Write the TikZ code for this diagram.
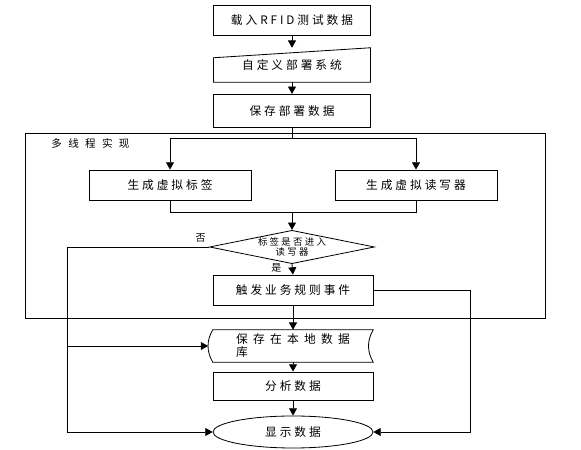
\documentclass[tikz,border=0pt]{standalone}
\usepackage{fontspec}
\newfontfamily\cjk[LetterSpace=25]{Noto Sans CJK SC}
\newfontfamily\cjkwide[LetterSpace=60]{Noto Sans CJK SC}
\usetikzlibrary{arrows.meta,shapes.geometric}

\begin{document}
\begin{tikzpicture}[
  x=0.3mm, y=-0.3mm,
  font=\cjk\fontsize{10}{12}\selectfont,
  ln/.style={line width=0.7pt},
  box/.style={draw, ln, minimum width=48mm, minimum height=9mm, inner sep=2pt},
  plain/.style={minimum width=48mm, minimum height=9.6mm, inner sep=2pt},
  lbl/.style={font=\cjk\fontsize{8.5}{9.5}\selectfont, inner sep=1pt},
  ar/.style={ln, -{Triangle[length=2.2mm,width=2.4mm]}},
]
\useasboundingbox (0,0) rectangle (581,450);

% --- upper chain ---------------------------------------------------------
\node[box, minimum width=47mm] (load) at (292,20) {载入RFID测试数据};
\node[plain, minimum width=47mm, minimum height=10.2mm] (cust) at (292,65)
     {自定义部署系统};
\draw[ln] (cust.south west) -- (cust.south east) -- (cust.north east)
          -- ([yshift=-3mm]cust.north west) -- cycle;
\node[box, minimum width=47mm, minimum height=10mm] (save) at (292,111) {保存部署数据};
\draw[ar] (load.south) -- (cust.north);
\draw[ar] (save.north|-cust.south) -- (save.north);

% --- multithreaded part --------------------------------------------------
\node[draw, ln, minimum width=156mm, minimum height=55.5mm, inner sep=0pt] (mt)
     at (285,225.5) {};
\node[lbl, font=\cjkwide\fontsize{9}{10}\selectfont, anchor=west] (mtl) at (50,143)
     {多线程实现};
\node[box, minimum width=48.6mm] (tag) at (170,185) {生成虚拟标签};
\node[box, minimum width=48.6mm] (rdr) at (416,185) {生成虚拟读写器};
\coordinate (split) at (292,138);
\draw[ln] (save.south) -- (split);
\draw[ar] (split) -| (tag.north);
\draw[ar] (split) -| (rdr.north);

\node[diamond, draw, ln, lbl, font=\cjk\fontsize{8}{9}\selectfont, aspect=5,
      inner sep=0pt, align=center, minimum width=49.5mm, minimum height=10mm]
     (dec) at (292,247) {标签是否进入\\读写器};
\coordinate (join) at (292,212);
\draw[ln] (tag.south) |- (join);
\draw[ln] (rdr.south) |- (join);
\draw[ar] (join) -- (dec.north);

\node[box] (trig) at (293,290) {触发业务规则事件};
\draw[ar] (dec.south) -- node[lbl, left=8pt, pos=.4]{是} (trig.north);

% --- lower chain ---------------------------------------------------------
\node[plain, align=left, font=\cjk\fontsize{10}{11}\selectfont\addfontfeature{LetterSpace=45}]
     (db) at (293,346) {保存在本地数据\\库};
\draw[ln] (db.north west) to[bend right] (db.south west) -- (db.south east)
          to[bend left] (db.north east) -- cycle;
\node[box, minimum height=8.4mm] (ana) at (293,386) {分析数据};
\node[ellipse, draw, ln, minimum width=48mm, minimum height=9.6mm, inner sep=1pt]
     (show) at (293,432) {显示数据};
\draw[ar] (trig.south) -- (db.north);
\draw[ar] (db.south) -- (ana.north);
\draw[ar] (ana.south) -- (show.north);

% --- side branches -------------------------------------------------------
\coordinate (yl) at (67,432);
\coordinate (yr) at (470,432);
\draw[ar] (dec.west) -| node[lbl, above=3pt, pos=.03]{否} (yl) -- (show.west);
\draw[ar] (yl|-db.west) -- ([xshift=-1.4mm]db.west);
\draw[ar] (trig.east) -| (yr) -- (show.east);
\end{tikzpicture}
\end{document}
